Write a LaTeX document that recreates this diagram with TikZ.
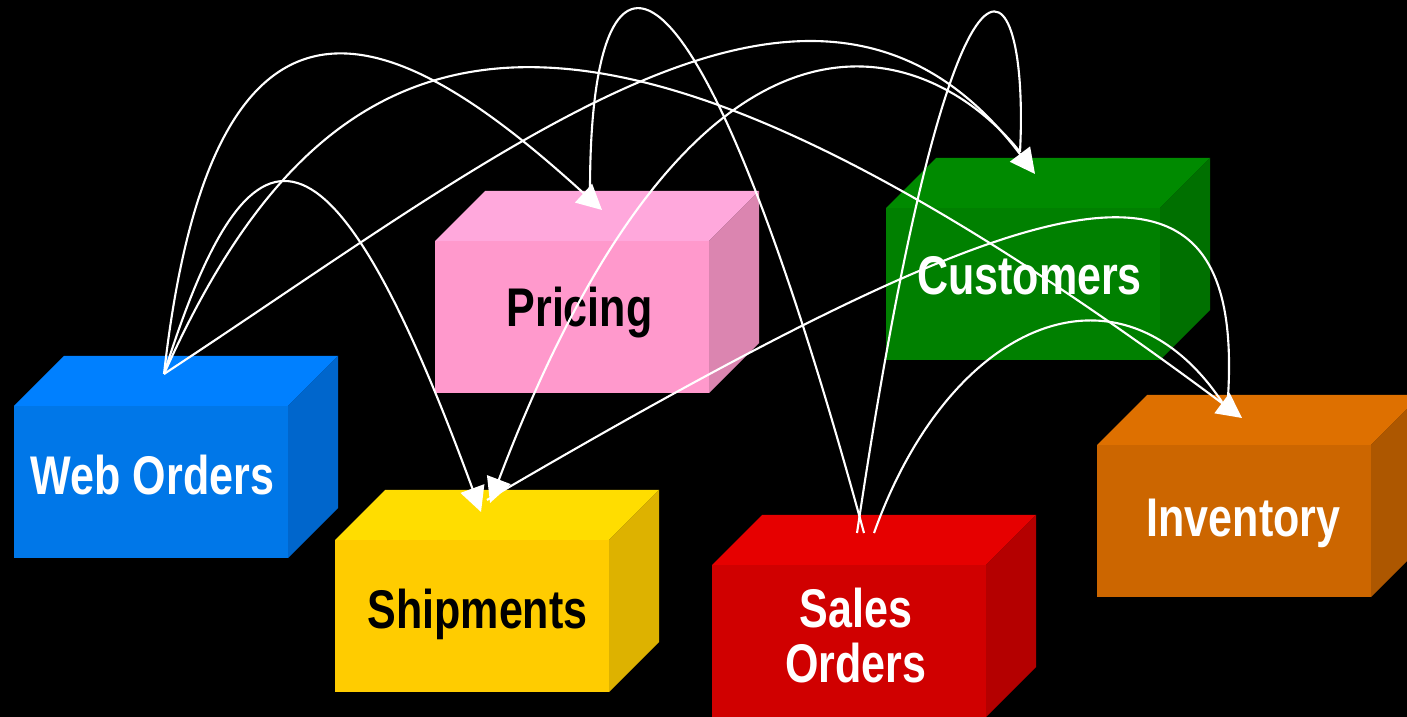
\documentclass[tikz,border=0pt]{standalone}
\usepackage{fontspec}
\newfontfamily\boxfont[FakeStretch=0.79]{Liberation Sans}
\usetikzlibrary{arrows.meta}
\definecolor{web1}{HTML}{0080FF}
\definecolor{web2}{HTML}{0077E8}
\definecolor{web3}{HTML}{0066CC}
\definecolor{price1}{HTML}{FFA8DC}
\definecolor{price2}{HTML}{FF99CC}
\definecolor{price3}{HTML}{DB85B0}
\definecolor{cust1}{HTML}{008A00}
\definecolor{cust2}{HTML}{008000}
\definecolor{cust3}{HTML}{007000}
\definecolor{inv1}{HTML}{DE7000}
\definecolor{inv2}{HTML}{CC6600}
\definecolor{inv3}{HTML}{AD5700}
\definecolor{ship1}{HTML}{FFDD00}
\definecolor{ship2}{HTML}{FFCC00}
\definecolor{ship3}{HTML}{DDB200}
\definecolor{sales1}{HTML}{E60000}
\definecolor{sales2}{HTML}{D00000}
\definecolor{sales3}{HTML}{B40000}
\tikzset{
  flow/.style={white, line width=0.6pt},
  flowhead/.style={flow, -{Triangle[length=2.5mm, width=2.5mm]}},
  boxtext/.style={font=\boxfont\bfseries\fontsize{15.5}{15.9}\selectfont, anchor=base, inner sep=0pt}
}
\begin{document}
\begin{tikzpicture}
\useasboundingbox (0, 0) rectangle (14.07, -7.17);
\fill[black] (0, 0) rectangle (14.07, -7.17);
\foreach \bx/\by/\cc in {0.14/4.06/web, 4.35/2.41/price, 8.86/2.08/cust, 10.97/4.45/inv, 3.35/5.40/ship, 7.12/5.65/sales} {
  \path[fill=\cc2] (\bx, -\by) rectangle ++(2.74, -1.52);
  \path[fill=\cc1] (\bx, -\by) -- ++(.5, .5) -- ++(2.74, 0) -- ++(-.5, -.5) -- cycle;
  \path[fill=\cc3] (\bx+2.74, -\by) -- ++(.5, .5) -- ++(0, -1.52) -- ++(-.5, -.5) -- cycle;
}
\node[boxtext, white] (web) at (1.525, -4.95) {Web Orders};
\node[boxtext] (pricing) at (5.795, -3.27) {Pricing};
\node[boxtext, white] (customers) at (10.295, -2.95) {Customers};
\node[boxtext, white] (inventory) at (12.435, -5.37) {Inventory};
\node[boxtext] (shipments) at (4.775, -6.28) {Shipments};
\node[boxtext, white, align=center, anchor=center] (sales) at (8.56, -6.355) {Sales\\Orders};
\coordinate (webtop) at (1.64, -3.74);
\coordinate (salestopA) at (8.57, -5.33);
\coordinate (salestopB) at (8.64, -5.33);
\coordinate (salestopC) at (8.74, -5.33);
\coordinate (pricetop) at (5.90, -1.90);
\coordinate (pricetip) at (6.02, -2.10);
\coordinate (custtop) at (10.20, -1.52);
\coordinate (custtip) at (10.35, -1.74);
\coordinate (invtop) at (12.28, -3.97);
\coordinate (invjoin) at (12.22, -4.02);
\coordinate (invtip) at (12.42, -4.18);
\coordinate (shiptipA) at (4.81, -5.12);
\coordinate (shiptipB) at (4.90, -5.03);
\coordinate (shipend) at (4.87, -5.00);
\draw[flowhead] (webtop) .. controls (2.15, .80) and (4.10, -.35) .. (pricetip);
\draw[flowhead] (webtop) .. controls (2.50, -1.00) and (3.30, -1.00) .. (shiptipA);
\draw[flowhead] (webtop) .. controls (3.40, .20) and (6.00, .60) .. (invtip);
\draw[flowhead] (webtop) .. controls (5.20, -1.40) and (8.20, 1.10) .. (custtip);
\draw[flowhead] (custtop) .. controls (9.30, -.40) and (7.00, .50) .. (shiptipB);
\draw[flow] (salestopB) .. controls (6.90, 1.05) and (5.90, .85) .. (pricetop);
\draw[flow] (salestopA) .. controls (9.55, 1.25) and (10.30, .45) .. (custtop);
\draw[flow] (salestopC) .. controls (9.50, -3.20) and (11.20, -2.50) .. (invjoin);
\draw[flow] (invtop) .. controls (12.45, -1.20) and (10.50, -1.70) .. (shipend);
\end{tikzpicture}
\end{document}
